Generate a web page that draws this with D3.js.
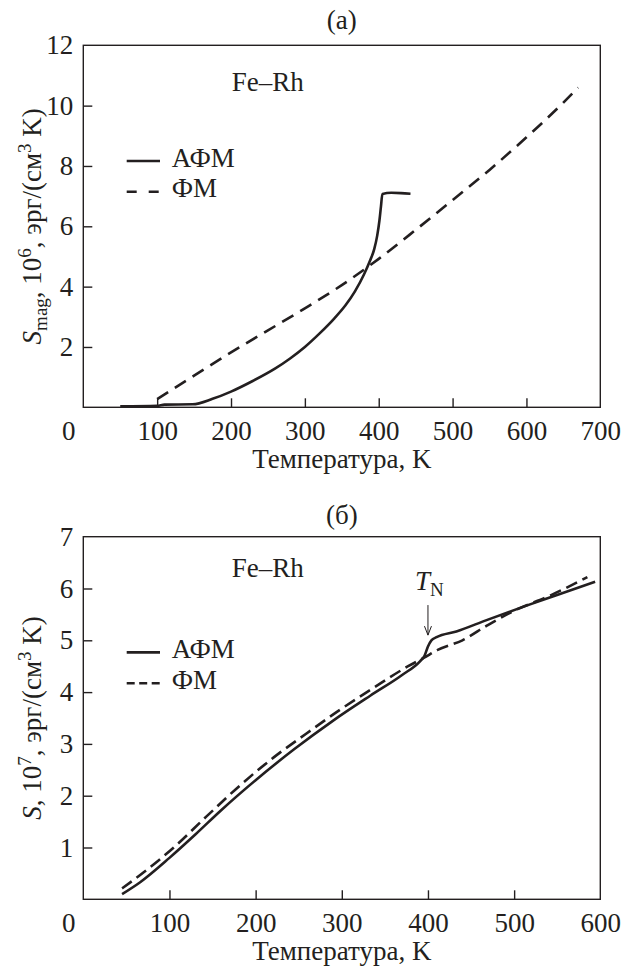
<!DOCTYPE html>
<html>
<head>
<meta charset="utf-8">
<script src="https://cdn.jsdelivr.net/npm/d3@7"></script>
<style>
body { margin: 0; background: #fff; }
svg { display: block; }
</style>
</head>
<body>
<div id="chart"></div>
<script>
// panel (a): magnetic entropy, 10^6 erg/(cm^3 K)
const tempTicksA = [100, 200, 300, 400, 500, 600]
const tempLabelsA = [0, 100, 200, 300, 400, 500, 600, 700]
const entTicksA = [2, 4, 6, 8, 10]
const entLabelsA = [2, 4, 6, 8, 10, 12]
const afmA = [
	[50, 0.03], [100, 0.05], [110, 0.09], [148, 0.1], [175, 0.28], [200, 0.52],
	[230, 0.88], [260, 1.29], [280, 1.62], [300, 2.0], [320, 2.45], [340, 2.95],
	[355, 3.38], [368, 3.85], [380, 4.4], [388, 4.85], [394, 5.25], [398, 5.7],
	[401, 6.2], [403, 6.65], [405, 7.07], [417, 7.11], [430, 7.1], [443, 7.08]
]
const fmA = [
	[100, 0.27], [150, 1.05], [200, 1.82], [250, 2.55], [300, 3.28], [350, 4.05],
	[400, 4.92], [450, 5.88], [500, 6.87], [550, 7.87], [600, 8.95], [650, 10.1],
	[670, 10.6]
]

// panel (б): total entropy, 10^7 erg/(cm^3 K)
const tempTicksB = [100, 200, 300, 400, 500]
const tempLabelsB = [0, 100, 200, 300, 400, 500, 600]
const entTicksB = [1, 2, 3, 4, 5, 6]
const entLabelsB = [1, 2, 3, 4, 5, 6, 7]
const afmB = [
	[45, 0.1], [66, 0.33], [100, 0.8], [130, 1.25], [160, 1.72], [200, 2.3],
	[245, 2.9], [290, 3.45], [333, 3.93], [370, 4.33], [391, 4.6],
	[396, 4.7], [400, 4.88], [404, 5.0], [410, 5.06], [433, 5.17], [468, 5.39],
	[511, 5.65], [549, 5.87], [594, 6.13]
]
const fmB = [
	[45, 0.21], [66, 0.47], [105, 1.0], [143, 1.6], [182, 2.2], [221, 2.74],
	[259, 3.2], [298, 3.66], [333, 4.04], [377, 4.5], [395, 4.66], [412, 4.82],
	[440, 5.0], [470, 5.3], [500, 5.57], [540, 5.85], [585, 6.22]
]
const tNeel = 400
const tNeelArrow = [5.68, 5.1]

const seriesNames = ["АФМ", "ФМ"]

const font = '"Liberation Serif", "Times New Roman", serif'
const ink = "#231f20"
const fontSize = 27
const smallSize = 19

const svg = d3.select("#chart")
	.append("svg")
	.attr("width", 633)
	.attr("height", 967)
	.style("background", "#fff")

// every text node gets the serif face inline
function serif(sel) {
	return sel.style("font-family", font).style("font-size", fontSize + "px").attr("fill", ink)
}

function drawPanel(p) {
	const left = 83.3, right = 600.3
	const x = d3.scaleLinear().domain(p.xDomain).range([left, right])
	const y = d3.scaleLinear().domain(p.yDomain).range([p.bottom, p.top])
	const g = svg.append("g")

	// panel title
	g.append("text")
		.attr("x", (left + right) / 2)
		.attr("y", p.titleY)
		.attr("text-anchor", "middle")
		.call(serif)
		.text(p.title)

	// frame
	g.append("rect")
		.attr("x", left)
		.attr("y", p.top)
		.attr("width", right - left)
		.attr("height", p.bottom - p.top)
		.attr("fill", "none")
		.attr("stroke", ink)
		.attr("stroke-width", 1.4)

	// inward ticks
	g.append("g")
		.attr("transform", `translate(0,${p.bottom})`)
		.call(d3.axisBottom(x).tickValues(p.xTicks).tickSize(-9).tickFormat(""))
		.call(a => a.select(".domain").remove())
		.attr("color", ink)
		.selectAll("line").attr("stroke-width", 1.4)

	g.append("g")
		.attr("transform", `translate(${left},0)`)
		.call(d3.axisLeft(y).tickValues(p.yTicks).tickSize(-9).tickFormat(""))
		.call(a => a.select(".domain").remove())
		.attr("color", ink)
		.selectAll("line").attr("stroke-width", 1.4)

	// tick labels
	g.append("g")
		.attr("transform", `translate(0,${p.bottom})`)
		.call(d3.axisBottom(x).tickValues(p.xLabels).tickSize(0).tickPadding(13.5).tickFormat(d3.format("d")))
		.call(a => a.select(".domain").remove())
		.selectAll("text")
		.call(serif)
		.filter(d => d === 0)
		.attr("dx", -15)

	g.append("g")
		.attr("transform", `translate(${left},0)`)
		.call(d3.axisLeft(y).tickValues(p.yLabels).tickSize(0).tickPadding(10).tickFormat(d3.format("d")))
		.call(a => a.select(".domain").remove())
		.selectAll("text")
		.call(serif)

	// x axis title
	g.append("text")
		.attr("x", (left + right) / 2)
		.attr("y", p.bottom + 61)
		.attr("text-anchor", "middle")
		.call(serif)
		.text("Температура, K")

	// y axis title, rotated
	const yt = g.append("text")
		.attr("transform", `translate(41,${(p.top + p.bottom) / 2}) rotate(-90)`)
		.attr("text-anchor", "middle")
		.call(serif)
	yt.append("tspan").style("font-style", "italic").text("S")
	if (p.sub) {
		yt.append("tspan").style("font-size", smallSize + "px").attr("dy", 6).text(p.sub)
		yt.append("tspan").attr("dy", -6).text(", 10")
	} else {
		yt.append("tspan").text(", 10")
	}
	yt.append("tspan").style("font-size", smallSize + "px").attr("dy", -10).text(p.power)
	yt.append("tspan").attr("dy", 10).text(", эрг/(см")
	yt.append("tspan").style("font-size", smallSize + "px").attr("dy", -10).text("3")
	yt.append("tspan").attr("dy", 10).text(" K)")

	// sample label
	g.append("text")
		.attr("x", 231.7)
		.attr("y", p.top + p.sampleDy)
		.call(serif)
		.text("Fe–Rh")

	// curves
	const lineFunction = d3.line()
		.x(d => x(d[0]))
		.y(d => y(d[1]))
		.curve(d3.curveMonotoneX)

	g.append("path")
		.attr("d", lineFunction(p.afm))
		.attr("fill", "none")
		.attr("stroke", ink)
		.attr("stroke-width", 2.6)
		.attr("stroke-linejoin", "round")

	g.append("path")
		.attr("d", lineFunction(p.fm))
		.attr("fill", "none")
		.attr("stroke", ink)
		.attr("stroke-width", 2.6)
		.attr("stroke-dasharray", p.dash)

	// legend
	const legendDash = [null, p.legendDash]
	seriesNames.forEach((name, i) => {
		const ly = p.top + 115.7 + i * 30.8
		g.append("line")
			.attr("x1", 126.7)
			.attr("x2", 160)
			.attr("y1", ly)
			.attr("y2", ly)
			.attr("stroke", ink)
			.attr("stroke-width", 2.6)
			.attr("stroke-dasharray", legendDash[i])
		g.append("text")
			.attr("x", 171.7)
			.attr("y", ly + 5.5)
			.call(serif)
			.text(name)
	})

	return {g, x, y}
}

drawPanel({
	title: "(a)", titleY: 29,
	top: 45.3, bottom: 407.3,
	xDomain: [0, 700], yDomain: [0, 12],
	xTicks: tempTicksA, xLabels: tempLabelsA,
	yTicks: entTicksA, yLabels: entLabelsA,
	sub: "mag", power: "6",
	sampleDy: 45.4,
	afm: afmA, fm: fmA,
	dash: "13,8", legendDash: "10,12"
})

const b = drawPanel({
	title: "(б)", titleY: 524,
	top: 536.7, bottom: 899.3,
	xDomain: [0, 600], yDomain: [0, 7],
	xTicks: tempTicksB, xLabels: tempLabelsB,
	yTicks: entTicksB, yLabels: entLabelsB,
	sub: null, power: "7",
	sampleDy: 40,
	afm: afmB, fm: fmB,
	dash: "12,6", legendDash: "8,4.5"
})

// Neel temperature marker
const ax = b.x(tNeel)
const aTop = b.y(tNeelArrow[0])
const aTip = b.y(tNeelArrow[1])
b.g.append("line")
	.attr("x1", ax).attr("x2", ax)
	.attr("y1", aTop).attr("y2", aTip)
	.attr("stroke", ink)
	.attr("stroke-width", 1)
b.g.append("path")
	.attr("d", `M${ax - 3.5},${aTip - 9}L${ax},${aTip}L${ax + 3.5},${aTip - 9}`)
	.attr("fill", "none")
	.attr("stroke", ink)
	.attr("stroke-width", 1)
const tn = b.g.append("text")
	.attr("x", ax - 13)
	.attr("y", aTop - 15)
	.call(serif)
tn.append("tspan").style("font-style", "italic").text("T")
tn.append("tspan").style("font-size", smallSize + "px").attr("dy", 6).text("N")
</script>
</body>
</html>
